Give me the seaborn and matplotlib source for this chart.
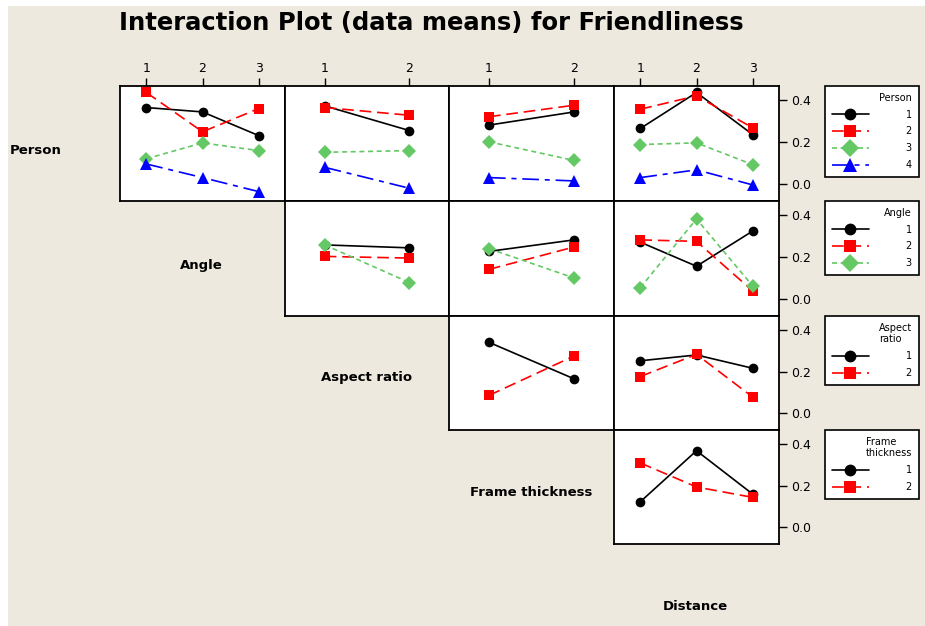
import matplotlib
matplotlib.use('Agg')
import matplotlib.pyplot as plt
import seaborn as sns
import pandas as pd
from matplotlib.patches import Rectangle

sns.set_theme(style='white')
plt.rcParams['font.family'] = ['DejaVu Sans']
plt.rcParams['text.color'] = 'black'
plt.rcParams['xtick.color'] = 'black'
plt.rcParams['ytick.color'] = 'black'
plt.rcParams['axes.labelcolor'] = 'black'

# factor levels
person_levels = [1, 2, 3, 4]
angle_levels = [1, 2, 3]
aspect_levels = [1, 2]
frame_levels = [1, 2]
distance_levels = [1, 2, 3]

# data means, one row per level of the row factor (trace factor)
person_x_angle = [[0.365, 0.344, 0.231], [0.437, 0.249, 0.360],
                  [0.120, 0.196, 0.159], [0.095, 0.030, -0.037]]
person_x_aspect = [[0.373, 0.255], [0.365, 0.328], [0.151, 0.159], [0.079, -0.021]]
person_x_frame = [[0.281, 0.344], [0.321, 0.376], [0.201, 0.112], [0.030, 0.014]]
person_x_distance = [[0.265, 0.437, 0.236], [0.357, 0.421, 0.268],
                     [0.188, 0.196, 0.092], [0.030, 0.067, -0.005]]
angle_x_aspect = [[0.258, 0.244], [0.203, 0.195], [0.258, 0.078]]
angle_x_frame = [[0.227, 0.282], [0.141, 0.248], [0.240, 0.100]]
angle_x_distance = [[0.271, 0.156, 0.324], [0.282, 0.275, 0.038], [0.054, 0.382, 0.062]]
aspect_x_frame = [[0.341, 0.165], [0.085, 0.275]]
aspect_x_distance = [[0.252, 0.280, 0.216], [0.176, 0.283, 0.077]]
frame_x_distance = [[0.122, 0.368, 0.159], [0.309, 0.193, 0.143]]

factors = ['Person', 'Angle', 'Aspect ratio', 'Frame thickness', 'Distance']
legend_titles = ['Person', 'Angle', 'Aspect\nratio', 'Frame\nthickness']
levels = [person_levels, angle_levels, aspect_levels, frame_levels, distance_levels]
panels = {
    (0, 1): person_x_angle, (0, 2): person_x_aspect, (0, 3): person_x_frame,
    (0, 4): person_x_distance, (1, 2): angle_x_aspect, (1, 3): angle_x_frame,
    (1, 4): angle_x_distance, (2, 3): aspect_x_frame, (2, 4): aspect_x_distance,
    (3, 4): frame_x_distance,
}

palette = {'1': 'black', '2': '#FF0000', '3': '#64C864', '4': '#0000FF'}
markers = {'1': 'o', '2': 's', '3': 'D', '4': '^'}
dashes = {'1': '', '2': (7, 3.5), '3': (3, 2.2), '4': (10, 3.5, 3, 3.5)}
msizes = {'o': 7, 's': 7, 'D': 7.5, '^': 8.5}

W, H = 925, 626
fig = plt.figure(figsize=(W / 100, H / 100), dpi=100)
fig.patch.set_facecolor('white')
fig.add_artist(Rectangle((8 / W, 0), (W - 8) / W, (H - 6) / H,
                         transform=fig.transFigure, facecolor='#EDE9DF',
                         edgecolor='none', zorder=-10))

col_edges = [120, 285, 449, 614, 779]
row_edges = [86, 201, 316, 430, 544]

for (r, c), vals in panels.items():
    ci = c - 1
    x0, x1 = col_edges[ci], col_edges[ci + 1]
    y0, y1 = row_edges[r], row_edges[r + 1]
    ax = fig.add_axes([x0 / W, 1 - y1 / H, (x1 - x0) / W, (y1 - y0) / H])

    xlev = levels[c]
    rows = []
    for gi, g in enumerate(levels[r]):
        for xi, xv in enumerate(xlev):
            rows.append({'x': xv, 'mean': vals[gi][xi], 'group': str(g)})
    df = pd.DataFrame(rows)
    grp = [str(g) for g in levels[r]]
    last = (c == 4)
    sns.lineplot(data=df, x='x', y='mean', hue='group', style='group',
                 hue_order=grp, style_order=grp,
                 palette={k: palette[k] for k in grp},
                 markers={k: markers[k] for k in grp},
                 dashes={k: dashes[k] for k in grp},
                 lw=1.2, mew=0, ms=7, errorbar=None, legend=last, ax=ax)
    for ln in ax.lines:
        m = ln.get_marker()
        if m in msizes:
            ln.set_markersize(msizes[m])

    n = len(xlev)
    ax.set_xlim(0.53, n + 0.47)
    ax.set_ylim(-0.082, 0.468)
    ax.set_facecolor('white')
    ax.set_xlabel('')
    ax.set_ylabel('')
    for s in ax.spines.values():
        s.set_color('black')
        s.set_linewidth(1.3)

    if r == 0:
        ax.xaxis.tick_top()
        ax.set_xticks(xlev)
        ax.set_xticklabels([str(v) for v in xlev])
        ax.tick_params(axis='x', top=True, bottom=False, direction='out',
                       length=6, width=1, labelsize=9, pad=2, color='black')
    else:
        ax.set_xticks([])

    if last:
        ax.yaxis.tick_right()
        ax.set_yticks([0.0, 0.2, 0.4])
        ax.set_yticklabels(['0.0', '0.2', '0.4'])
        ax.tick_params(axis='y', right=True, left=False, direction='out',
                       length=6, width=1, labelsize=9, pad=3, color='black')
        sns.move_legend(ax, 'upper left', bbox_to_anchor=(1.279, 1.0),
                        title=legend_titles[r], frameon=True, fontsize=7,
                        title_fontsize=7, borderaxespad=0, fancybox=False,
                        handlelength=3.8, handletextpad=3.8, labelspacing=0.7,
                        borderpad=0.7, alignment='right', facecolor='white')
        leg = ax.get_legend()
        leg.get_frame().set_edgecolor('black')
        leg.get_frame().set_linewidth(1.2)
        leg.get_frame().set_alpha(1)
        for h in leg.legend_handles:
            h.set_markeredgewidth(0)
            h.set_markersize(msizes.get(h.get_marker(), 7) + 1.5)
            h.set_linewidth(1.2)
    else:
        ax.set_yticks([])

# row / column factor labels
fig.text(10 / W, 1 - 150 / H, 'Person', ha='left', va='center',
         fontsize=9.5, fontweight='bold')
label_pos = [(201, 265), (367, 378), (531, 492), (695, 607)]
for name, (lx, ly) in zip(factors[1:], label_pos):
    fig.text(lx / W, 1 - ly / H, name, ha='center', va='center',
             fontsize=9.5, fontweight='bold')

fig.text(431 / W, 1 - 23 / H, 'Interaction Plot (data means) for Friendliness',
         ha='center', va='center', fontsize=17.5, fontweight='bold')

fig.savefig('out.png', dpi=100)
